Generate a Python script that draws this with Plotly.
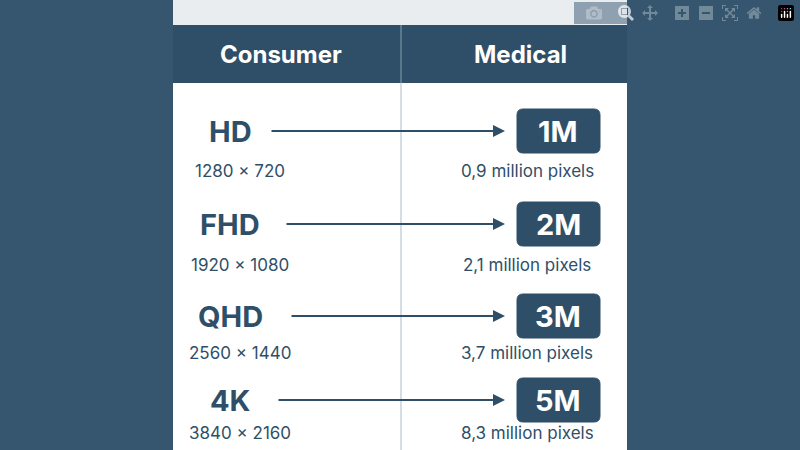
import plotly.graph_objects as go

consumer = ["HD", "FHD", "QHD", "4K"]
consumer_res = ["1280 × 720", "1920 × 1080", "2560 × 1440", "3840 × 2160"]
medical = ["1M", "2M", "3M", "5M"]
medical_px = ["0,9 million pixels", "2,1 million pixels", "3,7 million pixels", "8,3 million pixels"]
headers = ["Consumer", "Medical"]

BG = "#36566f"
DARK = "#2f4f68"
row_y = [131, 224, 316, 400]
sub_y = [171, 265, 353, 433]
label_end = [255, 270, 275, 262]

def rrect(x0, x1, y0, y1, r=6):
    return (f"M{x0+r},{y0} L{x1-r},{y0} Q{x1},{y0} {x1},{y0+r} L{x1},{y1-r} Q{x1},{y1} {x1-r},{y1} "
            f"L{x0+r},{y1} Q{x0},{y1} {x0},{y1-r} L{x0},{y0+r} Q{x0},{y0} {x0+r},{y0} Z")

fig = go.Figure()
shapes = [
    dict(type="rect", x0=173, x1=627, y0=0, y1=25, fillcolor="#e9edf0", line_width=0, layer="below"),
    dict(type="rect", x0=173, x1=627, y0=25, y1=83, fillcolor=DARK, line_width=0, layer="below"),
    dict(type="rect", x0=173, x1=627, y0=83, y1=450, fillcolor="white", line_width=0, layer="below"),
    dict(type="line", x0=401, x1=401, y0=25, y1=83, line=dict(color="#6a8499", width=1.5)),
    dict(type="line", x0=401, x1=401, y0=83, y1=450, line=dict(color="#c9d2da", width=1.5)),
]
ann = []
for i, (c, r, m, p) in enumerate(zip(consumer, consumer_res, medical, medical_px)):
    y = row_y[i]
    shapes.append(dict(type="path", path=rrect(517, 600, y - 22, y + 22), fillcolor=DARK,
                       line=dict(color=DARK, width=1), layer="above"))
    ann.append(dict(x=558, y=y, text=f"<b>{m}</b>", showarrow=False, font=dict(size=29, color="white", family="Inter"),
                    xref="x", yref="y"))
    ann.append(dict(x=230, y=y, text=f"<b>{c}</b>", showarrow=False, font=dict(size=29, color=DARK, family="Inter"),
                    xref="x", yref="y"))
    ann.append(dict(x=240, y=sub_y[i], text=r, showarrow=False, font=dict(size=17, color=DARK, family="Inter"),
                    xref="x", yref="y"))
    ann.append(dict(x=527, y=sub_y[i], text=p, showarrow=False, font=dict(size=17, color=DARK, family="Inter"),
                    xref="x", yref="y"))
    ann.append(dict(x=505, y=y, ax=label_end[i] + 15, ay=y, xref="x", yref="y", axref="x", ayref="y",
                    text="", showarrow=True, arrowhead=2, arrowsize=1.2, arrowwidth=2, arrowcolor=DARK))
for x, h in zip([281, 520], headers):
    ann.append(dict(x=x, y=54, text=f"<b>{h}</b>", showarrow=False, font=dict(size=24, color="white", family="Inter"),
                    xref="x", yref="y"))

fig.update_layout(width=800, height=450, margin=dict(l=0, r=0, t=0, b=0),
                  paper_bgcolor=BG, plot_bgcolor=BG, shapes=shapes, annotations=ann,
                  xaxis=dict(range=[0, 800], visible=False),
                  yaxis=dict(range=[450, 0], visible=False), showlegend=False)
fig.write_html("out.html")
with open("out.html", encoding="utf-8") as f:
    html = f.read()
html = html.replace("<body>", "<body style=\"margin:0;background:#36566f\">", 1)
with open("out.html", "w", encoding="utf-8") as f:
    f.write(html)
